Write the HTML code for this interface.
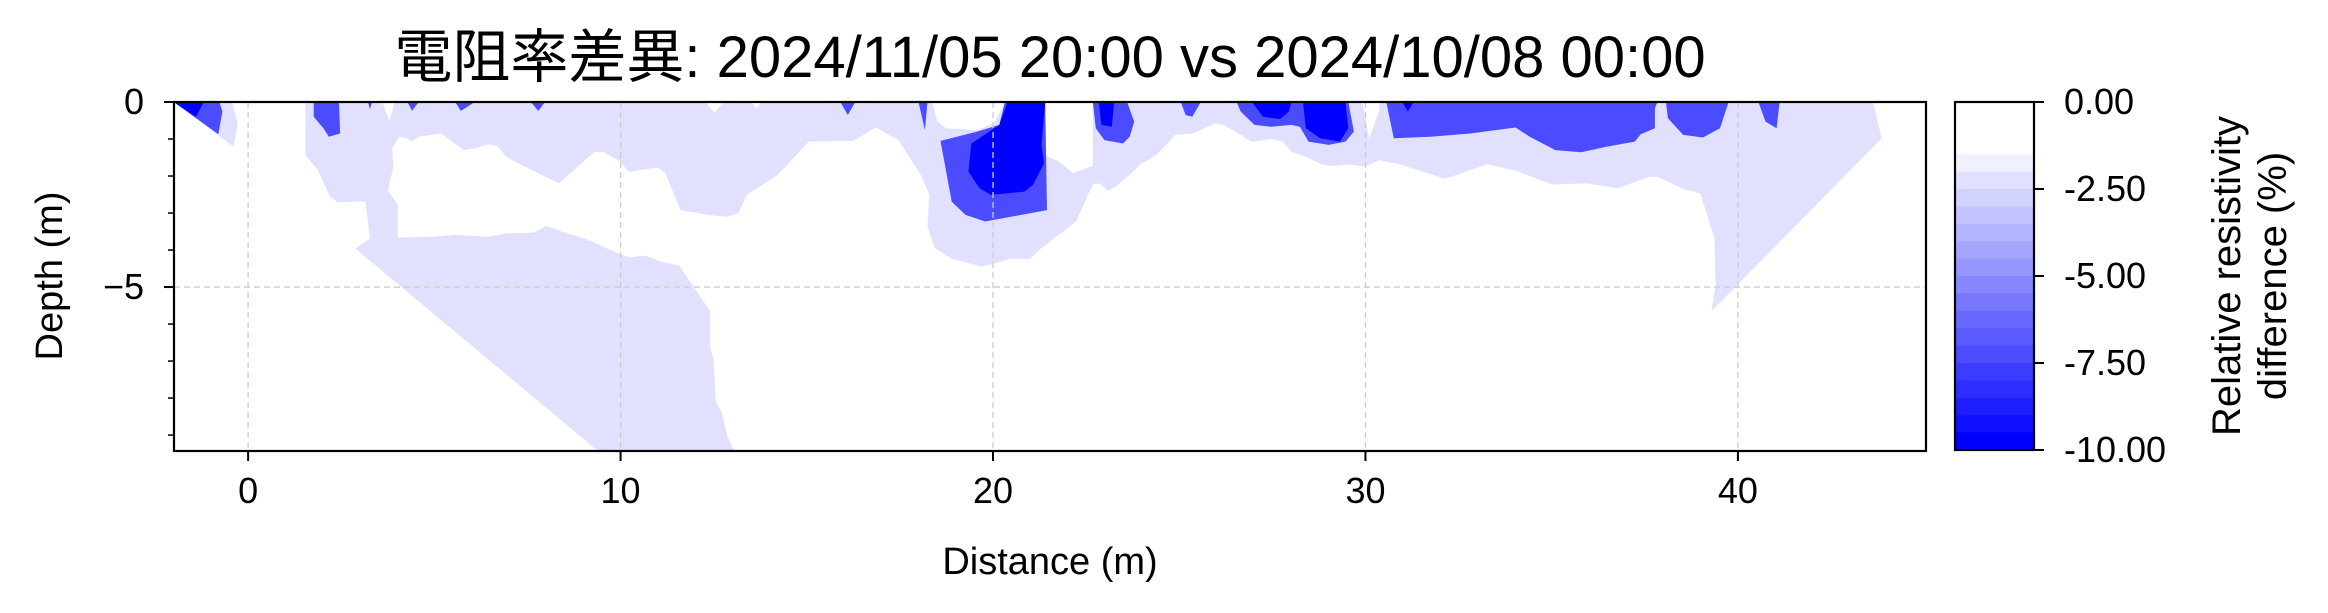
<!DOCTYPE html>
<html><head><meta charset="utf-8"><style>
html,body{margin:0;padding:0;background:#fff;}
svg{display:block;font-family:"Liberation Sans","Noto Sans CJK JP",sans-serif;}
</style></head><body>
<svg id="chart" width="2328" height="613" viewBox="0 0 2328 613" xmlns="http://www.w3.org/2000/svg">
<text x="1050" y="77" font-size="58" text-anchor="middle">電阻率差異: 2024/11/05 20:00 vs 2024/10/08 00:00</text>
<g id="plot"></g>
<g id="cbar"></g>
<text x="1050" y="574" font-size="38" text-anchor="middle">Distance (m)</text>
<text transform="translate(62,276) rotate(-90)" font-size="38" text-anchor="middle">Depth (m)</text>
<text transform="translate(2250,276) rotate(-90)" font-size="40" text-anchor="middle"><tspan x="0" dy="-10">Relative resistivity</tspan><tspan x="0" dy="46">difference (%)</tspan></text>
</svg>
<script>
const xTicks=[0,10,20,30,40];
const yTicks=[0,5];
const yMinor=[1,2,3,4,6,7,8,9];
const cbarTicks=[0,-2.5,-5,-7.5,-10];
const cbarTickLabels=["0.00","-2.50","-5.00","-7.50","-10.00"];
const cbarLevels=[0,-0.5,-1,-1.5,-2,-2.5,-3,-3.5,-4,-4.5,-5,-5.5,-6,-6.5,-7,-7.5,-8,-8.5,-9,-9.5,-10];
// contour regions: [distance m, depth m] ; value = level (%)
const lightRegion=[[1.54,0],[1.54,1.43],[1.87,1.84],[2.20,2.56],[2.40,2.71],[3.15,2.68],[3.27,3.69],[2.88,3.96],[9.42,9.45],[13.06,9.45],[12.86,9.00],[12.71,8.37],[12.56,8.10],[12.49,6.93],[12.41,6.66],[12.41,5.67],[12.26,5.44],[11.58,4.42],[11.13,4.32],[10.65,4.15],[10.23,4.20],[9.93,4.09],[9.02,3.68],[8.57,3.55],[8.00,3.35],[7.67,3.53],[6.92,3.55],[6.46,3.64],[5.56,3.59],[4.96,3.64],[4.02,3.66],[4.02,2.78],[3.75,2.38],[3.90,1.75],[3.87,1.25],[4.05,0.94],[4.28,0.98],[4.38,1.07],[4.58,0.94],[5.18,0.85],[5.79,1.30],[6.09,1.25],[6.46,1.14],[6.69,1.18],[6.92,1.48],[7.37,1.72],[8.35,2.20],[9.10,1.52],[9.32,1.34],[9.55,1.36],[9.93,1.57],[10.23,1.88],[11.01,1.77],[11.21,1.93],[11.61,2.92],[12.49,3.07],[12.86,3.10],[13.16,3.01],[13.39,2.51],[14.22,1.97],[15.05,1.07],[16.25,1.05],[16.85,0.69],[17.46,1.03],[18.06,1.97],[18.29,2.51],[18.24,3.37],[18.44,3.95],[18.89,4.23],[19.69,4.45],[20.47,4.24],[21.00,4.23],[21.3,3.95],[22.23,3.23],[22.68,2.23],[22.84,2.20],[23.09,2.40],[23.29,2.29],[23.67,1.97],[23.95,1.69],[24.40,1.43],[24.89,0.89],[25.35,0.85],[25.96,0.58],[26.19,0.62],[26.95,1.07],[27.48,1.00],[27.79,1.07],[28.01,1.34],[28.40,1.48],[28.85,1.70],[29.16,1.73],[29.54,1.68],[29.99,1.75],[30.38,1.57],[30.99,1.70],[32.13,2.08],[33.27,1.68],[34.03,1.86],[35.02,2.23],[35.94,2.20],[36.78,2.33],[37.61,2.02],[37.84,2.02],[38.53,2.35],[38.99,2.47],[39.37,3.69],[39.40,4.95],[39.29,5.65],[43.86,0.98],[43.63,0]];
const lightCorner=[[-2.0,0],[-0.39,1.21],[-0.28,0.58],[-0.43,0]];
const whiteNotch1=[[3.60,0],[3.80,0.53],[3.93,0]];
const whiteNotch2=[[12.26,0],[12.52,0.28],[12.79,0]];
const whiteNotch3=[[13.5,0],[13.66,0.17],[13.77,0]];
const whiteGap1=[[18.36,0],[18.51,0.53],[18.74,0.71],[19.57,0.76],[20.02,0.58],[20.24,0.17],[20.32,0]];
const whiteGap2=[[21.31,0],[21.39,1.43],[21.77,1.61],[22.15,1.93],[22.68,1.72],[22.68,0]];
const whiteGap3=[[29.92,0],[30.1,1.0],[30.38,0.2],[30.38,0]];
const medBlobs=[
 [[-2.0,0],[-0.80,0.87],[-0.69,0.26],[-0.77,0]],
 [[1.76,0],[1.76,0.40],[2.02,0.71],[2.17,0.94],[2.47,0.85],[2.44,0]],
 [[3.22,0],[3.27,0.19],[3.33,0]],
 [[4.28,0],[4.40,0.24],[4.58,0]],
 [[5.56,0],[5.71,0.24],[6.09,0]],
 [[7.59,0],[7.79,0.24],[7.97,0]],
 [[15.9,0],[16.1,0.35],[16.3,0]],
 [[18.0,0],[18.17,0.76],[18.24,0]],
 [[20.32,0],[20.17,0.62],[19.57,0.80],[18.59,1.05],[18.89,2.69],[19.26,3.05],[19.79,3.23],[21.45,2.92],[21.4,0]],
 [[22.68,0],[22.76,0.71],[22.99,1.03],[23.49,1.12],[23.67,0.94],[23.79,0.53],[23.60,0]],
 [[25.04,0],[25.17,0.35],[25.35,0.40],[25.58,0]],
 [[26.54,0],[26.65,0.26],[27.02,0.62],[27.48,0.67],[28.01,0.62],[28.24,0.67],[28.47,1.07],[29.01,1.16],[29.46,1.07],[29.69,0.80],[29.54,0]],
 [[30.56,0],[30.76,0.98],[31.75,0.94],[32.81,0.85],[34.03,0.69],[34.41,0.94],[35.10,1.30],[35.79,1.36],[36.47,1.21],[37.23,1.07],[37.39,0.87],[37.77,0.71],[37.77,0.17],[37.84,0]],
 [[38.07,0],[38.12,0.44],[38.53,0.89],[39.06,0.96],[39.52,0.71],[39.75,0]],
 [[40.55,0],[40.74,0.53],[41.04,0.71],[41.12,0]]
];
const darkBlobs=[
 [[-2.0,0],[-1.40,0.40],[-1.19,0]],
 [[20.39,0],[20.17,0.62],[19.42,1.12],[19.34,1.88],[19.64,2.33],[19.94,2.51],[20.84,2.42],[21.07,2.24],[21.37,1.66],[21.30,1.16],[21.40,0]],
 [[22.84,0],[22.91,0.62],[23.19,0.67],[23.25,0]],
 [[26.95,0],[27.25,0.40],[27.71,0.46],[27.94,0.26],[28.01,0]],
 [[28.32,0],[28.40,0.71],[28.78,0.98],[29.31,1.07],[29.54,0.71],[29.46,0]],
 [[30.99,0],[31.14,0.26],[31.29,0]]
];
const lightValue=-2.25, medValue=-7.1, darkValue=-9.75;

const NS="http://www.w3.org/2000/svg";
const PL=174,PR=1926,PT=102,PB=451;
const X0=-1.99,X1=45.05,D0=0,D1=9.43;
function xs(v){return PL+(v-X0)/(X1-X0)*(PR-PL);}
function ys(d){return PT+(d-D0)/(D1-D0)*(PB-PT);}
function colorFor(v){const k=Math.min(19,Math.floor(-v/0.5));const s=Math.max(0,k-2)/17;const c=Math.round(255*(1-s));return `rgb(${c},${c},255)`;}
function mk(tag,parent,attrs){const e=document.createElementNS(NS,tag);for(const k in attrs)e.setAttribute(k,attrs[k]);parent.appendChild(e);return e;}
const plot=document.getElementById('plot');
function poly(pts,fill,name){
 const p=mk('polygon',plot,{points:pts.map(q=>xs(q[0]).toFixed(1)+','+ys(q[1]).toFixed(1)).join(' '),fill:fill});
 
 
}
mk('rect',plot,{x:PL,y:PT,width:PR-PL,height:PB-PT,fill:'#fff'});
poly(lightRegion,colorFor(lightValue),'contour-light-region');
poly(lightCorner,colorFor(lightValue),'contour-light-corner');
[whiteNotch1,whiteNotch2,whiteNotch3,whiteGap1,whiteGap2,whiteGap3].forEach(w=>poly(w,'#fff','contour-white-gap'));
medBlobs.forEach(b=>poly(b,colorFor(medValue),'contour-medium-anomaly'));
darkBlobs.forEach(b=>poly(b,colorFor(darkValue),'contour-strong-anomaly'));
// grid
xTicks.forEach(t=>{const l=mk('line',plot,{x1:xs(t),x2:xs(t),y1:PT,y2:PB,stroke:'#cccccc','stroke-width':1.3,'stroke-dasharray':'6,4'});
 
 });
yTicks.forEach(t=>{const l=mk('line',plot,{x1:PL,x2:PR,y1:ys(t),y2:ys(t),stroke:'#cccccc','stroke-width':1.3,'stroke-dasharray':'6,4'});
 
 });
const frame=mk('rect',plot,{x:PL,y:PT,width:PR-PL,height:PB-PT,fill:'none',stroke:'#000','stroke-width':2.2});


xTicks.forEach(t=>{mk('line',plot,{x1:xs(t),x2:xs(t),y1:PB,y2:PB+10,stroke:'#000','stroke-width':2});
 const tx=mk('text',plot,{x:xs(t),y:PB+52,'font-size':36,'text-anchor':'middle'});tx.textContent=t;
 
 });
yTicks.forEach(t=>{mk('line',plot,{x1:PL-10,x2:PL,y1:ys(t),y2:ys(t),stroke:'#000','stroke-width':2});
 const tx=mk('text',plot,{x:PL-30,y:ys(t)+12,'font-size':36,'text-anchor':'end'});tx.textContent=t===0?'0':'\u2212'+t;
 
 });
yMinor.forEach(t=>mk('line',plot,{x1:PL-6,x2:PL,y1:ys(t),y2:ys(t),stroke:'#000','stroke-width':1.5}));
// colorbar
const cb=document.getElementById('cbar');
const CL=1955,CR=2034,CT=102,CB=450;
function cy(v){return CT+(0-v)/10*(CB-CT);}
for(let i=0;i<cbarLevels.length-1;i++){
 const r=mk('rect',cb,{x:CL,y:cy(cbarLevels[i]),width:CR-CL,height:cy(cbarLevels[i+1])-cy(cbarLevels[i])+0.6,fill:colorFor((cbarLevels[i]+cbarLevels[i+1])/2)});
 
 
}
mk('rect',cb,{x:CL,y:CT,width:CR-CL,height:CB-CT,fill:'none',stroke:'#000','stroke-width':2.2});
cbarTicks.forEach((t,i)=>{mk('line',cb,{x1:CR,x2:CR+10,y1:cy(t),y2:cy(t),stroke:'#000','stroke-width':2});
 const tx=mk('text',cb,{x:CR+30,y:cy(t)+12,'font-size':36});tx.textContent=cbarTickLabels[i];
 
 });
</script>
</body></html>
